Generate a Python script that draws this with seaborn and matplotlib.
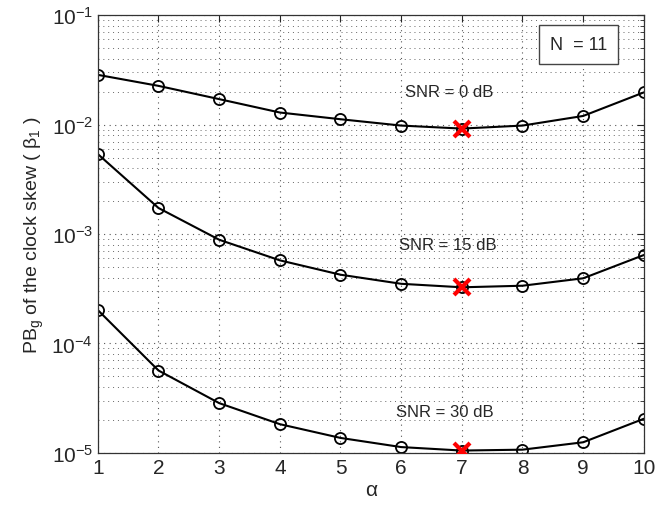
import numpy as np
import pandas as pd
import matplotlib
matplotlib.use("Agg")
import matplotlib.pyplot as plt
import seaborn as sns
from matplotlib.ticker import LogLocator, NullFormatter

# alpha values and PB_g for each SNR
alpha = [1, 2, 3, 4, 5, 6, 7, 8, 9, 10]
pb_0db = [0.0285, 0.0226, 0.0171, 0.0129, 0.0112, 0.0098, 0.0092, 0.0098, 0.0120, 0.0197]
pb_15db = [0.00538, 0.00173, 0.000887, 0.000575, 0.000425, 0.000351, 0.000326, 0.000337, 0.000394, 0.000643]
pb_30db = [0.000202, 5.66e-05, 2.85e-05, 1.83e-05, 1.37e-05, 1.13e-05, 1.05e-05, 1.07e-05, 1.25e-05, 2.05e-05]
snr_labels = ["SNR = 0 dB", "SNR = 15 dB", "SNR = 30 dB"]
best_alpha = 7
label_pos = [(6.8, 0.0200), (6.77, 0.00081), (6.72, 2.4e-05)]

df = pd.DataFrame({
    "alpha": alpha * 3,
    "pb": pb_0db + pb_15db + pb_30db,
    "snr": [snr_labels[0]] * 10 + [snr_labels[1]] * 10 + [snr_labels[2]] * 10,
})

sns.set_style("white")
plt.rcParams["font.family"] = ["Liberation Sans", "DejaVu Sans"]
plt.rcParams["mathtext.fontset"] = "custom"
plt.rcParams["mathtext.rm"] = "Liberation Sans"
plt.rcParams["mathtext.it"] = "Liberation Sans:italic"

fig = plt.figure(figsize=(6.61, 5.06), dpi=100)
ax = fig.add_axes([0.148, 0.103, 0.826, 0.865])

sns.lineplot(data=df, x="alpha", y="pb", units="snr", estimator=None,
             color="black", lw=1.5, marker="o", markersize=8,
             markerfacecolor="none", markeredgecolor="black", markeredgewidth=1.3,
             legend=False, ax=ax)

# best alpha markers
best = df[df["alpha"] == best_alpha]
ax.plot(best["alpha"], best["pb"], ls="none", marker="x", color="red",
        markersize=12, markeredgewidth=3, zorder=5)

for lab, (xt, yt) in zip(snr_labels, label_pos):
    ax.text(xt, yt, lab, fontsize=12, ha="center", va="center")

ax.set_yscale("log")
ax.set_xlim(1, 10)
ax.set_ylim(1e-5, 1e-1)
ax.set_xticks(alpha)
ax.yaxis.set_major_locator(LogLocator(base=10, numticks=10))
ax.yaxis.set_minor_locator(LogLocator(base=10, subs=np.arange(2, 10), numticks=20))
ax.yaxis.set_minor_formatter(NullFormatter())

ax.grid(True, which="major", ls=(0, (1, 4)), color="#555555", lw=0.8)
ax.grid(True, which="minor", axis="y", ls=(0, (1, 4)), color="#666666", lw=0.7)
ax.tick_params(axis="both", which="both", direction="in", top=True, right=True)
ax.tick_params(axis="both", which="major", labelsize=15, length=5)
ax.tick_params(axis="y", which="minor", length=3)
for s in ax.spines.values():
    s.set_color("#333333")
    s.set_linewidth(0.9)

ax.set_xlabel("α", fontsize=15, labelpad=2)
ax.set_ylabel("PB$_\\mathrm{g}$ of the clock skew ( β$_\\mathrm{1}$ )", fontsize=14, labelpad=4)

ax.text(0.88, 0.933, "N  = 11", transform=ax.transAxes, fontsize=13,
        ha="center", va="center",
        bbox=dict(boxstyle="square,pad=0.6", fc="white", ec="#444444", lw=1.0))

fig.savefig("out.png", dpi=100)
